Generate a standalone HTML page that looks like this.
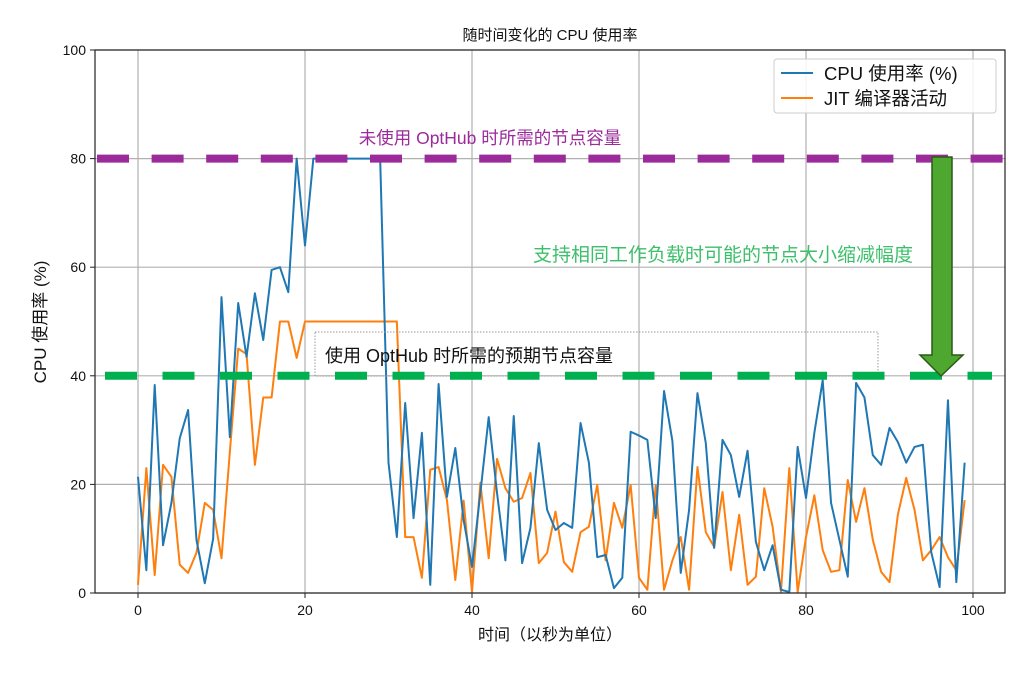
<!DOCTYPE html>
<html><head><meta charset="utf-8"><style>
body{margin:0;background:#fff;}
svg text{font-family:"Liberation Sans","Noto Sans CJK SC",sans-serif;}
</style></head><body>
<svg width="1024" height="673" viewBox="0 0 1024 673" xmlns="http://www.w3.org/2000/svg">
<rect width="1024" height="673" fill="#fff"/>
<g id="grid"></g>
<g id="lines"></g>
<g id="ann"></g>
<rect x="95" y="50" width="910" height="543" fill="none" stroke="#222" stroke-width="1.2"/>
<g id="ticks"></g>
<text x="550" y="40" text-anchor="middle" font-size="15" fill="#111">随时间变化的 CPU 使用率</text>
<text x="550" y="640" text-anchor="middle" font-size="16" fill="#111">时间（以秒为单位）</text>
<text transform="translate(46,322) rotate(-90)" text-anchor="middle" font-size="17" fill="#111">CPU 使用率 (%)</text>
<g>
<rect x="774" y="59" width="222" height="54" rx="3" fill="#fff" fill-opacity="0.85" stroke="#ccc"/>
<line x1="781" y1="73" x2="813" y2="73" stroke="#1f77b4" stroke-width="2"/>
<text x="824" y="80" font-size="18.5" fill="#111">CPU 使用率 (%)</text>
<line x1="781" y1="98" x2="813" y2="98" stroke="#ff7f0e" stroke-width="2"/>
<text x="824" y="105" font-size="18.5" fill="#111">JIT 编译器活动</text>
</g>
</svg>
<script>
const cpu=[21.4,4.2,38.3,8.8,16.6,28.5,33.7,9.8,1.8,10,54.5,28.7,53.4,43.5,55.2,46.6,59.5,60,55.4,80,64,80,80,80,80,80,80,80,80,80,24,10.3,35,13.8,29.5,1.5,38.5,17.7,26.7,13.4,4.8,18.4,32.4,18.4,6,32.6,5.5,12,27.6,15.3,11.6,12.9,12,31.3,24,6.6,7,0.9,2.8,29.7,29,28.2,13.8,37.2,28,3.7,15.3,36.8,27.6,8.3,28.2,25.4,17.7,26.2,9.4,4.2,8.8,0.6,0.2,26.9,17.5,29.5,39.2,16.6,9.8,3,38.7,36,25.4,23.6,30.4,27.8,24,26.9,27.3,7.5,1.1,35.5,2,24];
const jit=[1.5,23,3.3,23.6,21.4,5.2,3.7,7.4,16.6,15.3,6.4,26,45,44,23.6,36,36,50,50,43.3,50,50,50,50,50,50,50,50,50,50,50,50,10.3,10.3,2.8,22.7,23.2,17.1,2.4,17,0.2,20.3,6.4,24.7,19.3,16.8,17.5,22.1,5.5,7.4,15,5.7,3.9,11.2,12.2,19.9,6,16.6,12,19.9,2.8,0.6,19.9,0.6,6,10.3,0.6,23.2,11.2,8.5,18.6,4.2,14.4,1.5,3,19.3,12.2,0.2,23,0.2,10.3,18,7.9,3.9,4.2,20.8,13.1,19.3,9.8,3.9,2,14.4,21.2,15.3,6,7.9,10.3,6.6,4.2,17.1];
const xTicks=[0,20,40,60,80,100];
const yTicks=[0,20,40,60,80,100];
const capacityNoOpt=80, capacityOpt=40;
const NS="http://www.w3.org/2000/svg";
const X=v=>138+v*8.35, Y=v=>593-v*5.43;
function mk(tag,attrs,parent){const e=document.createElementNS(NS,tag);for(const k in attrs)e.setAttribute(k,attrs[k]);document.getElementById(parent).appendChild(e);return e;}
xTicks.forEach(t=>{
 const g=mk('line',{x1:X(t),x2:X(t),y1:50,y2:593,stroke:'#b0b0b0','stroke-width':1.2},'grid');
 
 
 const tk=mk('line',{x1:X(t),x2:X(t),y1:593,y2:598,stroke:'#222'},'ticks');
 
 
 const tx=mk('text',{x:X(t),y:615,'text-anchor':'middle','font-size':14,fill:'#111'},'ticks');
 tx.textContent=t;
 
 
});
yTicks.forEach(t=>{
 const g=mk('line',{x1:95,x2:1005,y1:Y(t),y2:Y(t),stroke:'#b0b0b0','stroke-width':1.2},'grid');
 
 
 const tk=mk('line',{x1:90,x2:95,y1:Y(t),y2:Y(t),stroke:'#222'},'ticks');
 
 
 const tx=mk('text',{x:86,y:Y(t)+5,'text-anchor':'end','font-size':14,fill:'#111'},'ticks');
 tx.textContent=t;
 
 
});
function series(arr,color,name){
 const p=mk('polyline',{points:arr.map((v,i)=>X(i)+','+Y(v)).join(' '),fill:'none',stroke:color,'stroke-width':2,'stroke-linejoin':'round'},'lines');
 
 
}
series(jit,'#ff7f0e','jit-activity-line');
series(cpu,'#1f77b4','cpu-usage-line');
const bx=mk('rect',{x:315,y:332,width:563,height:44,fill:'none',stroke:'#999','stroke-dasharray':'1.5 1.5'},'ann');


const pl=mk('line',{x1:97,x2:1003,y1:Y(capacityNoOpt),y2:Y(capacityNoOpt),stroke:'#9b2a9b','stroke-width':8,'stroke-dasharray':'32 22.6','stroke-dashoffset':0},'ann');


const gl=mk('line',{x1:100,x2:992,y1:Y(capacityOpt),y2:Y(capacityOpt),stroke:'#00b050','stroke-width':8,'stroke-dasharray':'32 25.5','stroke-dashoffset':-5},'ann');


const t1=mk('text',{x:490,y:144,'text-anchor':'middle','font-size':17.5,fill:'#9b2a9b'},'ann');
t1.textContent='未使用 OptHub 时所需的节点容量';


const t2=mk('text',{x:723,y:261,'text-anchor':'middle','font-size':19,fill:'#3cbf6a'},'ann');
t2.textContent='支持相同工作负载时可能的节点大小缩减幅度';


const t3=mk('text',{x:325,y:362,'font-size':18,fill:'#111'},'ann');
t3.textContent='使用 OptHub 时所需的预期节点容量';


const ar=mk('polygon',{points:'932,157 952,157 952,355 963,355 941,376 920,355 932,355',fill:'#4ea72e',stroke:'#2c5a18','stroke-width':1.5},'ann');


</script>
</body></html>
